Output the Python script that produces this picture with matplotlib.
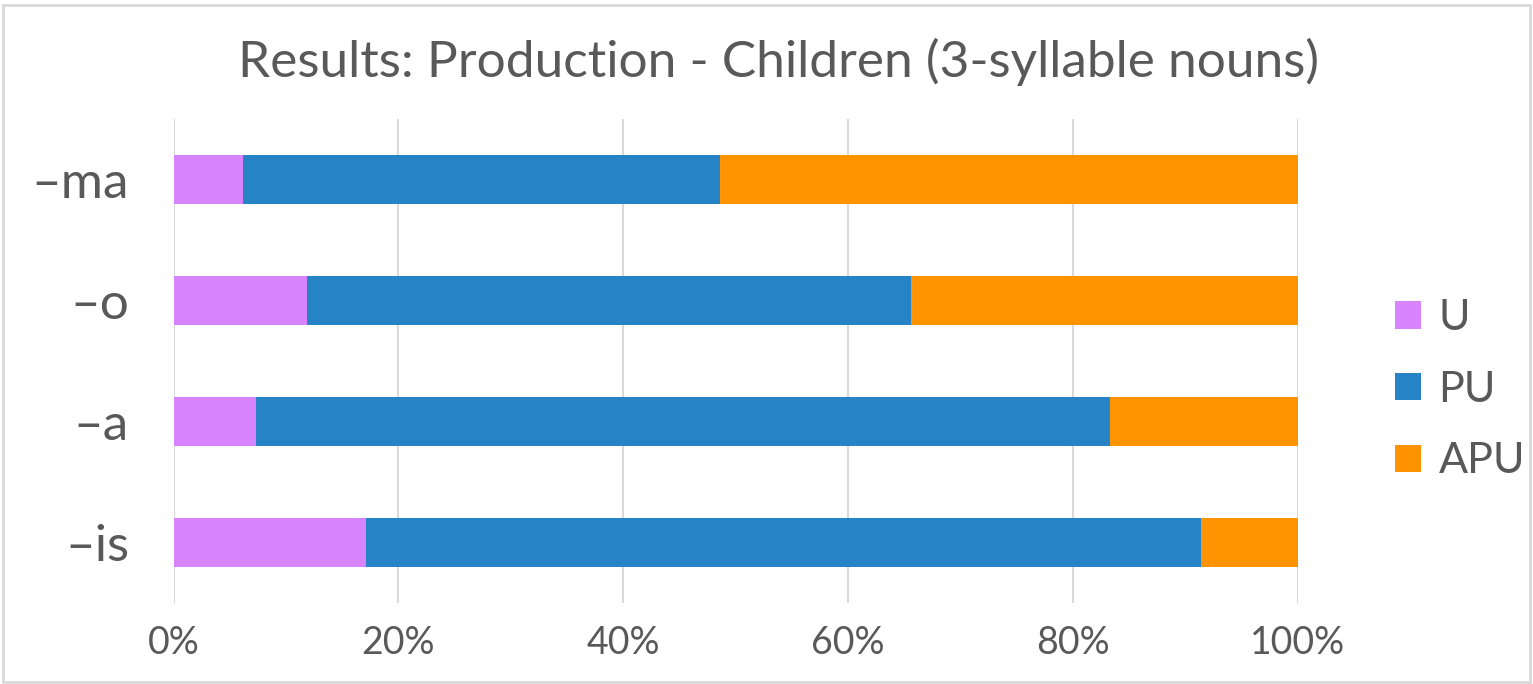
import matplotlib as mpl
mpl.use('Agg')
import matplotlib.pyplot as plt
from matplotlib.patches import Rectangle

plt.rcParams['font.family'] = ['Lato', 'DejaVu Sans']

# data (percent of responses)
categories = ['\u2013is', '\u2013a', '\u2013o', '\u2013ma']
u_vals = [17.1, 7.3, 11.9, 6.2]
pu_vals = [74.3, 76.0, 53.7, 42.4]
apu_vals = [8.6, 16.7, 34.4, 51.4]
series_names = ['U', 'PU', 'APU']
colors = ['#D883FF', '#2683C6', '#FF9300']
xticks = [0, 20, 40, 60, 80, 100]

text_col = '#595959'
grid_col = '#D9D9D9'

fig = plt.figure(figsize=(15.33, 6.84), dpi=100)
ax = fig.add_axes([0.1132, 0.1184, 0.7332, 0.7076])

y = range(len(categories))
left = [0] * len(categories)
for vals, name, c in zip([u_vals, pu_vals, apu_vals], series_names, colors):
	ax.barh(y, vals, left=left, height=0.4, color=c, label=name, zorder=3)
	left = [l + v for l, v in zip(left, vals)]

ax.set_xlim(0, 100)
ax.set_ylim(-0.5, len(categories) - 0.5)
ax.set_xticks(xticks)
ax.set_xticklabels(["{0}%".format(t) for t in xticks], fontsize=27, color=text_col)
ax.set_yticks(list(y))
ax.set_yticklabels(categories, fontsize=37, color=text_col)
ax.tick_params(length=0)
ax.tick_params(axis='x', pad=16)
ax.tick_params(axis='y', pad=32)
ax.xaxis.grid(True, color=grid_col, linewidth=1.5, zorder=0)
for s in ax.spines.values():
	s.set_visible(False)

# legend at right, in U / PU / APU order from top
handles, labels = ax.get_legend_handles_labels()
leg = fig.legend(handles, labels, loc='center left', bbox_to_anchor=(0.885, 0.43),
	frameon=False, handlelength=0.6, handleheight=0.6,
	handletextpad=0.4, labelspacing=0.78, labelcolor=text_col,
	prop={'size': 31})

fig.text(0.508, 0.91, "Results: Production - Children (3-syllable nouns)",
	ha='center', va='center', fontsize=37, color=text_col)

fig.patches.append(Rectangle((0.002, 0.003), 0.996, 0.99, transform=fig.transFigure,
	fill=False, edgecolor=grid_col, linewidth=2))

fig.savefig('out.png', dpi=100)
